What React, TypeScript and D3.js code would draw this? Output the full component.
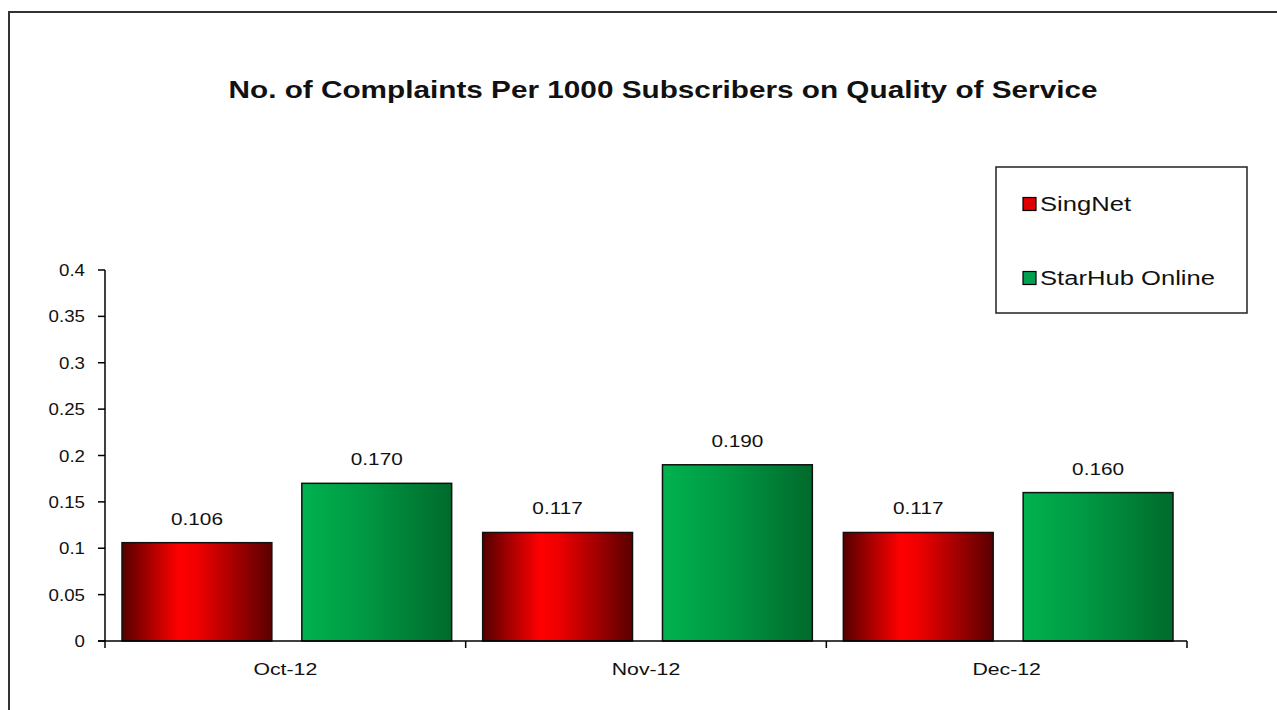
import React from "react";
import * as d3 from "d3";

const categories = ["Oct-12", "Nov-12", "Dec-12"];
const seriesNames = ["SingNet", "StarHub Online"];
const singnet = [0.106, 0.117, 0.117];
const starhub = [0.17, 0.19, 0.16];
const yTicks = [0, 0.05, 0.1, 0.15, 0.2, 0.25, 0.3, 0.35, 0.4];
const title = "No. of Complaints Per 1000 Subscribers on Quality of Service";

const W = 1277;
const H = 710;
const FONT = "Arial, 'Liberation Sans', sans-serif";

export default function App() {
  const x0 = 105;
  const x1 = 1187;
  const yTop = 270;
  const yBot = 641;
  const y = d3.scaleLinear().domain([0, 0.4]).range([yBot, yTop]);
  const xBand = d3.scaleBand<string>().domain(categories).range([x0, x1]).paddingInner(0).paddingOuter(0);
  const bw = xBand.bandwidth();
  const inner = d3
    .scaleBand<string>()
    .domain(seriesNames)
    .range([17, bw - 14])
    .paddingInner(1 / 6)
    .paddingOuter(0);
  const series = [singnet, starhub];
  const fills = ["url(#gradRed)", "url(#gradGreen)"];
  const swatch = ["#e00000", "#00a050"];

  return (
    <svg
      width={W}
      height={H}
      style={{ position: "absolute", left: 0, top: 0, background: "#fff" }}
      fontFamily={FONT}
    >
      <defs>
        <linearGradient id="gradRed" x1="0" x2="1" y1="0" y2="0">
          <stop offset="0" stopColor="#550000" />
          <stop offset="0.38" stopColor="#ff0000" />
          <stop offset="0.5" stopColor="#f00000" />
          <stop offset="1" stopColor="#5a0000" />
        </linearGradient>
        <linearGradient id="gradGreen" x1="0" x2="1" y1="0" y2="0">
          <stop offset="0" stopColor="#00b24e" />
          <stop offset="0.4" stopColor="#009a44" />
          <stop offset="1" stopColor="#006a2c" />
        </linearGradient>
      </defs>
      <rect x={0} y={0} width={W} height={H} fill="#fff" />
      <rect x={9} y={12} width={W + 20} height={H + 20} fill="none" stroke="#333" strokeWidth={2} />

      <text
        x={663}
        y={98}
        textAnchor="middle"
        fontSize={24}
        fontWeight="bold"
        fill="#111"
        textLength={869}
        lengthAdjust="spacingAndGlyphs"
      >
        {title}
      </text>

      {/* y axis */}
      <line x1={x0} x2={x0} y1={yTop} y2={yBot} stroke="#000" strokeWidth={1.5} />
      {yTicks.map((t) => (
        <g key={t}>
          <line x1={x0 - 7} x2={x0} y1={y(t)} y2={y(t)} stroke="#000" strokeWidth={1.5} />
          <g transform={`translate(85,${y(t)}) scale(1.1,1)`}>
            <text dy="0.36em" textAnchor="end" fontSize={17} fill="#111">
              {String(t)}
            </text>
          </g>
        </g>
      ))}

      {/* bars */}
      {categories.map((c, ci) => (
        <g key={c} transform={`translate(${xBand(c)},0)`}>
          {seriesNames.map((s, si) => {
            const v = series[si][ci];
            const bx = inner(s)!;
            const ib = inner.bandwidth();
            return (
              <g key={s}>
                <rect
                  x={bx}
                  y={y(v)}
                  width={ib}
                  height={yBot - y(v)}
                  fill={fills[si]}
                  stroke="#111"
                  strokeWidth={1.5}
                />
                <g transform={`translate(${bx + ib / 2},${y(v) - 18}) scale(1.3,1)`}>
                  <text textAnchor="middle" fontSize={16} fill="#111">
                    {v.toFixed(3)}
                  </text>
                </g>
              </g>
            );
          })}
        </g>
      ))}

      {/* x axis */}
      <line x1={x0 - 7} x2={x1} y1={yBot} y2={yBot} stroke="#000" strokeWidth={1.5} />
      {categories.map((c, i) => (
        <g key={c}>
          <line x1={xBand(c)!} x2={xBand(c)!} y1={yBot} y2={yBot + 7} stroke="#000" strokeWidth={1.5} />
          {i === categories.length - 1 && (
            <line x1={x1} x2={x1} y1={yBot} y2={yBot + 7} stroke="#000" strokeWidth={1.5} />
          )}
          <g transform={`translate(${xBand(c)! + bw / 2},675) scale(1.33,1)`}>
            <text textAnchor="middle" fontSize={16} fill="#111">
              {c}
            </text>
          </g>
        </g>
      ))}

      {/* legend */}
      <rect x={996} y={167} width={251} height={146} fill="#fff" stroke="#222" strokeWidth={1.5} />
      {seriesNames.map((s, i) => {
        const cy = 204 + i * 74;
        return (
          <g key={s}>
            <rect x={1023} y={cy - 6.5} width={13} height={13} fill={swatch[i]} stroke="#000" strokeWidth={1.2} />
            <g transform={`translate(1040,${cy + 7}) scale(1.28,1)`}>
              <text fontSize={20} fill="#111">
                {s}
              </text>
            </g>
          </g>
        );
      })}
    </svg>
  );
}
